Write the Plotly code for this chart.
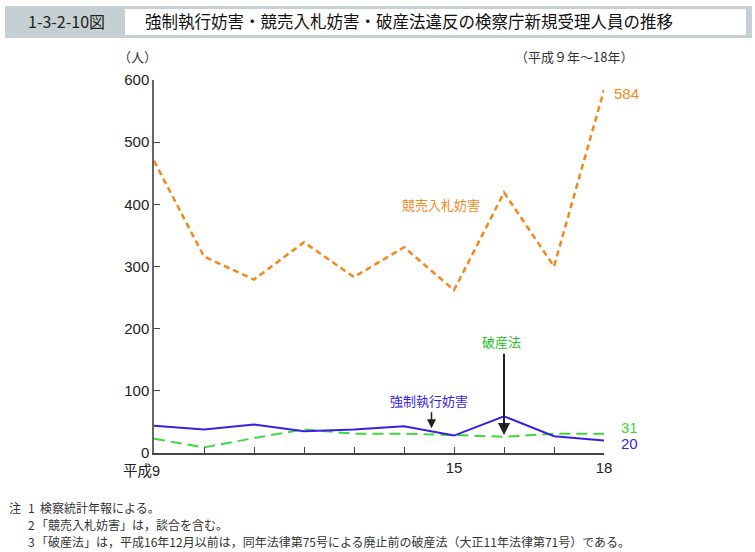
import plotly.graph_objects as go

years = [9, 10, 11, 12, 13, 14, 15, 16, 17, 18]
kyobai = [470, 316, 279, 339, 283, 331, 262, 419, 300, 584]   # 競売入札妨害
kyosei = [44, 38, 46, 35, 38, 43, 28, 59, 27, 20]             # 強制執行妨害
hasan = [23, 9, 24, 38, 31, 31, 29, 26, 31, 31]               # 破産法

x_tickvals = years
x_ticktext = ["", "", "", "", "", "", "15", "", "", "18"]
first_year_label = "平成9"
y_tickvals = [0, 100, 200, 300, 400, 500, 600]

ORANGE = "#F2891E"
BLUE = "#3A1EE3"
GREEN = "#3CD83C"
JP = "Noto Sans CJK JP"
NUM = "Liberation Sans, Arial"

L, R, T, B = 154, 604, 80, 453
W, H = R - L, B - T


def px(x):
    return (x - L) / W


def py(y):
    return (B - y) / H


fig = go.Figure()
fig.add_trace(go.Scatter(x=years, y=kyobai, mode="lines",
                         line=dict(color=ORANGE, width=2.5, dash="6px,4px"),
                         hoverinfo="skip"))
fig.add_trace(go.Scatter(x=years, y=hasan, mode="lines",
                         line=dict(color=GREEN, width=2, dash="11px,6px"),
                         hoverinfo="skip"))
fig.add_trace(go.Scatter(x=years, y=kyosei, mode="lines",
                         line=dict(color=BLUE, width=2),
                         hoverinfo="skip"))

shapes = [
    dict(type="rect", xref="paper", yref="paper", x0=px(5), x1=px(752), y0=py(38), y1=py(6),
         fillcolor="#C6D0D4", line=dict(width=0), layer="below"),
    dict(type="rect", xref="paper", yref="paper", x0=px(125), x1=px(746), y0=py(35), y1=py(9),
         fillcolor="#FFFFFF", line=dict(width=0), layer="below"),
]

ann = []


def text(x, y, s, size=14, color="#222", font=JP, xanchor="left"):
    ann.append(dict(x=px(x), y=py(y), xref="paper", yref="paper", text=s, showarrow=False,
                    xanchor=xanchor, yanchor="middle", font=dict(family=font, size=size, color=color)))


text(66, 21, "1-3-2-10図", size=16, color="#222", font=JP, xanchor="center")
text(143, 21, "強制執行妨害・競売入札妨害・破産法違反の検察庁新規受理人員の推移", size=16.5, color="#111")
text(116, 57, "（人）", size=13, color="#333")
text(513, 57, "（平成９年～18年）", size=13, color="#333")
text(612, 93, "584", size=15, color=ORANGE, font=NUM)
text(619, 427, "31", size=15, color=GREEN, font=NUM)
text(619, 443, "20", size=15, color=BLUE, font=NUM)
text(400, 204, "競売入札妨害", size=13, color=ORANGE)
text(480, 341, "破産法", size=13, color="#2DBB2D")
text(388, 400, "強制執行妨害", size=13, color=BLUE)
text(141, 471, first_year_label, size=14.5, color="#222", font="Liberation Sans, Noto Sans CJK JP",
     xanchor="center")

notes = [
    (7, 507, "注"), (26, 507, "1"), (38, 507, "検察統計年報による。"),
    (26, 524, "2"), (34, 524, "「競売入札妨害」は，談合を含む。"),
    (26, 541, "3"), (34, 541, "「破産法」は，平成16年12月以前は，同年法律第75号による廃止前の破産法（大正11年法律第71号）である。"),
]
for x, y, s in notes:
    text(x, y, s, size=12, color="#333")

# arrows
ann.append(dict(x=16, y=29, ax=16, ay=162, xref="x", yref="y", axref="x", ayref="y",
                text="", showarrow=True, arrowhead=2, arrowsize=1.2, arrowwidth=2, arrowcolor="#222"))
ann.append(dict(x=14.55, y=40, ax=14.55, ay=68, xref="x", yref="y", axref="x", ayref="y",
                text="", showarrow=True, arrowhead=2, arrowsize=1.2, arrowwidth=1.5, arrowcolor="#222"))

fig.update_layout(
    width=755, height=552,
    margin=dict(l=L, r=755 - R, t=T, b=552 - B),
    paper_bgcolor="white", plot_bgcolor="white",
    showlegend=False,
    shapes=shapes, annotations=ann,
    xaxis=dict(range=[9, 18], tickvals=x_tickvals, ticktext=x_ticktext,
               showgrid=False, zeroline=False, showline=True, linecolor="#444", linewidth=1.5,
               ticks="inside", ticklen=6, tickcolor="#444", tickwidth=1,
               tickfont=dict(family="Liberation Sans, Noto Sans CJK JP", size=15, color="#222")),
    yaxis=dict(range=[0, 600], tickvals=y_tickvals,
               showgrid=False, zeroline=False, showline=True, linecolor="#666", linewidth=1.5,
               ticks="inside", ticklen=6, tickcolor="#444", tickwidth=1,
               tickfont=dict(family=NUM, size=15, color="#222")),
)

fig.write_html("out.html")
